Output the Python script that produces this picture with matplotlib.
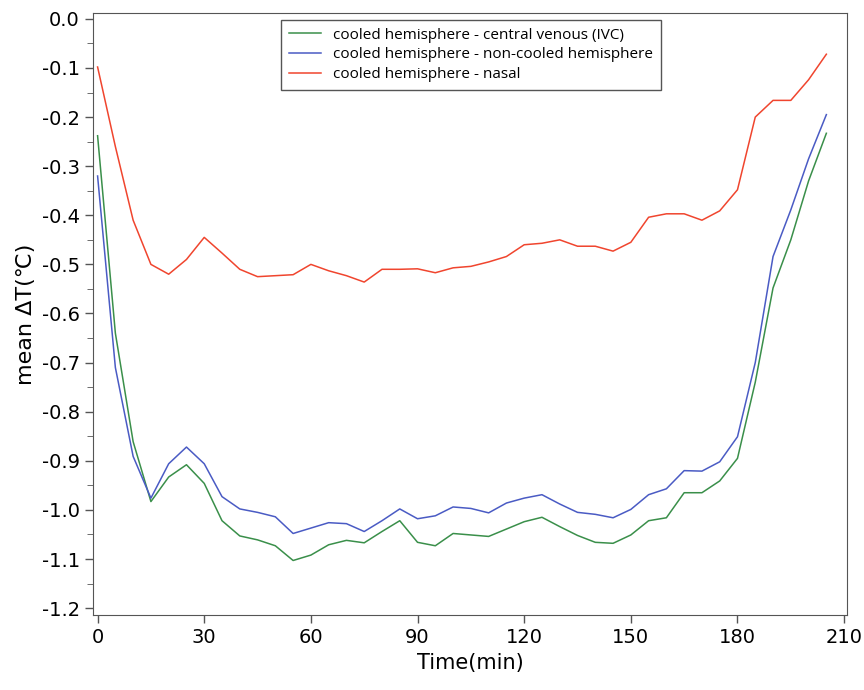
import matplotlib
matplotlib.use("Agg")
import matplotlib.pyplot as plt
from matplotlib.ticker import MultipleLocator, FuncFormatter

time = list(range(0, 210, 5))

central_venous = [-0.238, -0.64, -0.861, -0.983, -0.933, -0.908, -0.946, -1.022, -1.053, -1.061,
                  -1.073, -1.103, -1.092, -1.071, -1.062, -1.067, -1.044, -1.022, -1.066, -1.073,
                  -1.048, -1.051, -1.054, -1.039, -1.024, -1.015, -1.034, -1.052, -1.066, -1.068,
                  -1.051, -1.022, -1.016, -0.965, -0.965, -0.941, -0.895, -0.74, -0.548, -0.45,
                  -0.33, -0.233]
non_cooled = [-0.32, -0.71, -0.891, -0.976, -0.906, -0.872, -0.906, -0.973, -0.998, -1.005,
              -1.014, -1.048, -1.037, -1.026, -1.028, -1.044, -1.022, -0.998, -1.018, -1.012,
              -0.994, -0.997, -1.006, -0.986, -0.976, -0.969, -0.988, -1.005, -1.009, -1.016,
              -0.999, -0.969, -0.957, -0.92, -0.921, -0.902, -0.851, -0.70, -0.484, -0.389,
              -0.285, -0.195]
nasal = [-0.098, -0.26, -0.41, -0.50, -0.52, -0.49, -0.445, -0.477, -0.51, -0.525,
         -0.523, -0.521, -0.50, -0.513, -0.523, -0.536, -0.51, -0.51, -0.509, -0.517,
         -0.507, -0.504, -0.495, -0.484, -0.46, -0.457, -0.45, -0.463, -0.463, -0.473,
         -0.455, -0.404, -0.397, -0.397, -0.41, -0.391, -0.348, -0.20, -0.166, -0.166,
         -0.124, -0.072]

labels = ['cooled hemisphere - central venous (IVC)',
          'cooled hemisphere - non-cooled hemisphere',
          'cooled hemisphere - nasal']

fig = plt.figure(figsize=(8.64, 6.9), dpi=100)
ax = fig.add_axes([0.1076, 0.1087, 0.8727, 0.8725])

ax.plot(time, central_venous, color='#3a8f4a', lw=1.1, label=labels[0])
ax.plot(time, non_cooled, color='#4a5bc4', lw=1.1, label=labels[1])
ax.plot(time, nasal, color='#f0452e', lw=1.1, label=labels[2])

ax.set_xlim(-1.3, 210.8)
ax.set_ylim(-1.214, 0.012)
ax.set_xticks(range(0, 211, 30))
ax.yaxis.set_major_locator(MultipleLocator(0.1))
ax.yaxis.set_minor_locator(MultipleLocator(0.05))
ax.yaxis.set_major_formatter(FuncFormatter(lambda v, p: f'{v:.1f}' if abs(v) > 1e-9 else '0.0'))
ax.tick_params(axis='both', labelsize=14, color='#555555', length=6, width=1)
ax.tick_params(axis='y', which='minor', length=4, color='#555555')
for s in ax.spines.values():
    s.set_color('#555555')

ax.set_xlabel('Time(min)', fontsize=15)
ax.set_ylabel('mean ΔT(℃)', fontsize=16)

leg = ax.legend(loc='upper center', bbox_to_anchor=(0.501, 0.988), borderaxespad=0,
                prop={'family': 'Open Sans', 'size': 11},
                fancybox=False, edgecolor='#555555', framealpha=1,
                handlelength=2.1, borderpad=0.5, labelspacing=0.3)
leg.get_frame().set_linewidth(1)

fig.savefig('out.png', dpi=100)
